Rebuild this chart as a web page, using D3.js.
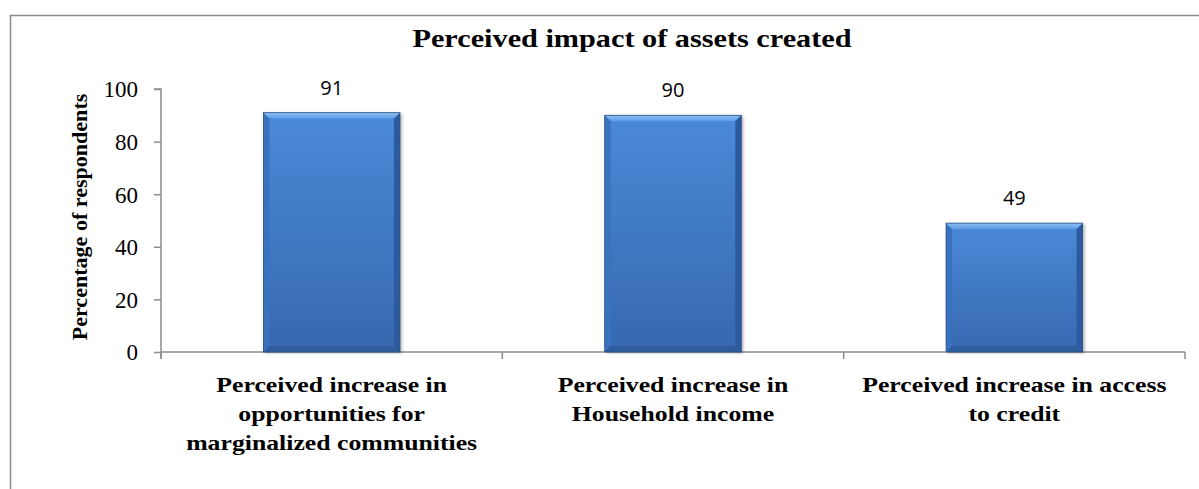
<!DOCTYPE html>
<html><head><meta charset="utf-8">
<script src="https://cdn.jsdelivr.net/npm/d3@7"></script>
<style>body{margin:0;background:#fff}svg{display:block}</style>
</head><body><svg id="c" width="1199" height="489"></svg>
<script>
const categories = [
  ["Perceived increase in", "opportunities for", "marginalized communities"],
  ["Perceived increase in", "Household income"],
  ["Perceived increase in access", "to credit"]
];
const values = [91, 90, 49];
const yTicks = [0, 20, 40, 60, 80, 100];
const title = "Perceived impact of assets created";
const yTitle = "Percentage of respondents";

const svg = d3.select("#c");
const serif = "'Liberation Serif', 'Times New Roman', serif";
const sans = "'Open Sans', 'Liberation Sans', sans-serif";
const m = {left: 161, right: 1185, top: 89, bottom: 352};

function widen(sel, k) {
  sel.each(function() {
    const w = this.getComputedTextLength();
    d3.select(this).attr("textLength", w * k).attr("lengthAdjust", "spacingAndGlyphs");
  });
}

svg.append("rect").attr("x", 10.5).attr("y", 15.5).attr("width", 1300).attr("height", 600)
  .attr("fill", "#fff").attr("stroke", "#8c8c8c").attr("stroke-width", 1.5);

const x = d3.scaleBand().domain(d3.range(values.length)).range([m.left, m.right]).paddingInner(0.6).paddingOuter(0.3);
const xc = d3.scaleBand().domain(d3.range(values.length)).range([m.left, m.right]);
const y = d3.scaleLinear().domain([0, 100]).range([m.bottom, m.top]);

const defs = svg.append("defs");
const g1 = defs.append("linearGradient").attr("id", "bg").attr("x1", 0).attr("y1", 0).attr("x2", 0).attr("y2", 1);
g1.append("stop").attr("offset", "0%").attr("stop-color", "#4a89d8");
g1.append("stop").attr("offset", "100%").attr("stop-color", "#3768b0");
const gt = defs.append("linearGradient").attr("id", "tg").attr("x1", 0).attr("y1", 0).attr("x2", 0).attr("y2", 1);
gt.append("stop").attr("offset", "0%").attr("stop-color", "#8ec0f5");
gt.append("stop").attr("offset", "100%").attr("stop-color", "#5b9be6");
const f = defs.append("filter").attr("id", "sh").attr("x", "-10%").attr("y", "-10%").attr("width", "130%").attr("height", "120%");
f.append("feDropShadow").attr("dx", 2).attr("dy", 1).attr("stdDeviation", 1.5).attr("flood-color", "#000").attr("flood-opacity", 0.3);

// axes
const yAxis = d3.axisLeft(y).tickValues(yTicks).tickSize(7).tickPadding(16);
const ya = svg.append("g").attr("transform", `translate(${m.left},0)`).call(yAxis);
ya.select(".domain").attr("stroke", "#8c8c8c").attr("stroke-width", 1.5).attr("d", `M-7,${m.top}H0V${m.bottom + 6}`);
ya.selectAll(".tick line").attr("stroke", "#8c8c8c").attr("stroke-width", 1.5);
ya.selectAll(".tick text").attr("font-family", serif).attr("font-size", 23).attr("fill", "#000")
  .attr("dy", "0.34em").attr("x", -23).attr("text-anchor", "end");

const xa = svg.append("g");
xa.append("line").attr("x1", m.left).attr("x2", m.right).attr("y1", m.bottom).attr("y2", m.bottom)
  .attr("stroke", "#8c8c8c").attr("stroke-width", 1.5);
xa.selectAll("line.t").data(d3.range(values.length + 1)).join("line")
  .attr("x1", i => i < values.length ? xc(i) : m.right).attr("x2", i => i < values.length ? xc(i) : m.right)
  .attr("y1", m.bottom).attr("y2", m.bottom + 7).attr("stroke", "#8c8c8c").attr("stroke-width", 1.5);

// bars
const bev = 6;
const bars = svg.append("g").selectAll("g").data(values).join("g");
bars.each(function(v, i) {
  const gg = d3.select(this);
  const x0 = x(i), x1 = x(i) + x.bandwidth(), y0 = y(v), y1 = y(0);
  gg.append("rect").attr("x", x0).attr("y", y0).attr("width", x1 - x0).attr("height", y1 - y0)
    .attr("fill", "url(#bg)").attr("filter", "url(#sh)");
  gg.append("polygon").attr("points", [[x0, y0], [x1, y0], [x1 - bev, y0 + bev], [x0 + bev, y0 + bev]].join(" "))
    .attr("fill", "url(#tg)");
  gg.append("polygon").attr("points", [[x0, y0], [x0 + bev, y0 + bev], [x0 + bev, y1 - bev], [x0, y1]].join(" "))
    .attr("fill", "#3a72c0");
  gg.append("polygon").attr("points", [[x1, y0], [x1 - bev, y0 + bev], [x1 - bev, y1 - bev], [x1, y1]].join(" "))
    .attr("fill", "#2b5a9e");
  gg.append("polygon").attr("points", [[x0, y1], [x0 + bev, y1 - bev], [x1 - bev, y1 - bev], [x1, y1]].join(" "))
    .attr("fill", "#2f5c9c");
  gg.append("rect").attr("x", x0).attr("y", y0).attr("width", x1 - x0).attr("height", y1 - y0)
    .attr("fill", "none").attr("stroke", "#2c5285").attr("stroke-width", 0.8);
  gg.append("text").attr("x", x0 + x.bandwidth() / 2).attr("y", y0 - 18).attr("text-anchor", "middle")
    .attr("font-family", sans).attr("font-size", 20).attr("fill", "#000").text(v);
});

// category labels
const cl = svg.append("g").selectAll("text").data(categories).join("text")
  .attr("text-anchor", "middle").attr("font-family", serif).attr("font-weight", "bold").attr("font-size", 22)
  .each(function(lines, i) {
    d3.select(this).selectAll("tspan").data(lines).join("tspan")
      .attr("x", xc(i) + xc.bandwidth() / 2).attr("y", (d, j) => 392 + j * 29).text(d => d);
  });
widen(cl.selectAll("tspan"), 1.17);

// titles
const tt = svg.append("text").attr("x", 632).attr("y", 47).attr("text-anchor", "middle")
  .attr("font-family", serif).attr("font-weight", "bold").attr("font-size", 25).text(title);
widen(tt, 1.21);
const yt = svg.append("text").attr("transform", `translate(87,217) rotate(-90)`).attr("text-anchor", "middle")
  .attr("font-family", serif).attr("font-weight", "bold").attr("font-size", 21).text(yTitle);
widen(yt, 1.05);
</script></body></html>
